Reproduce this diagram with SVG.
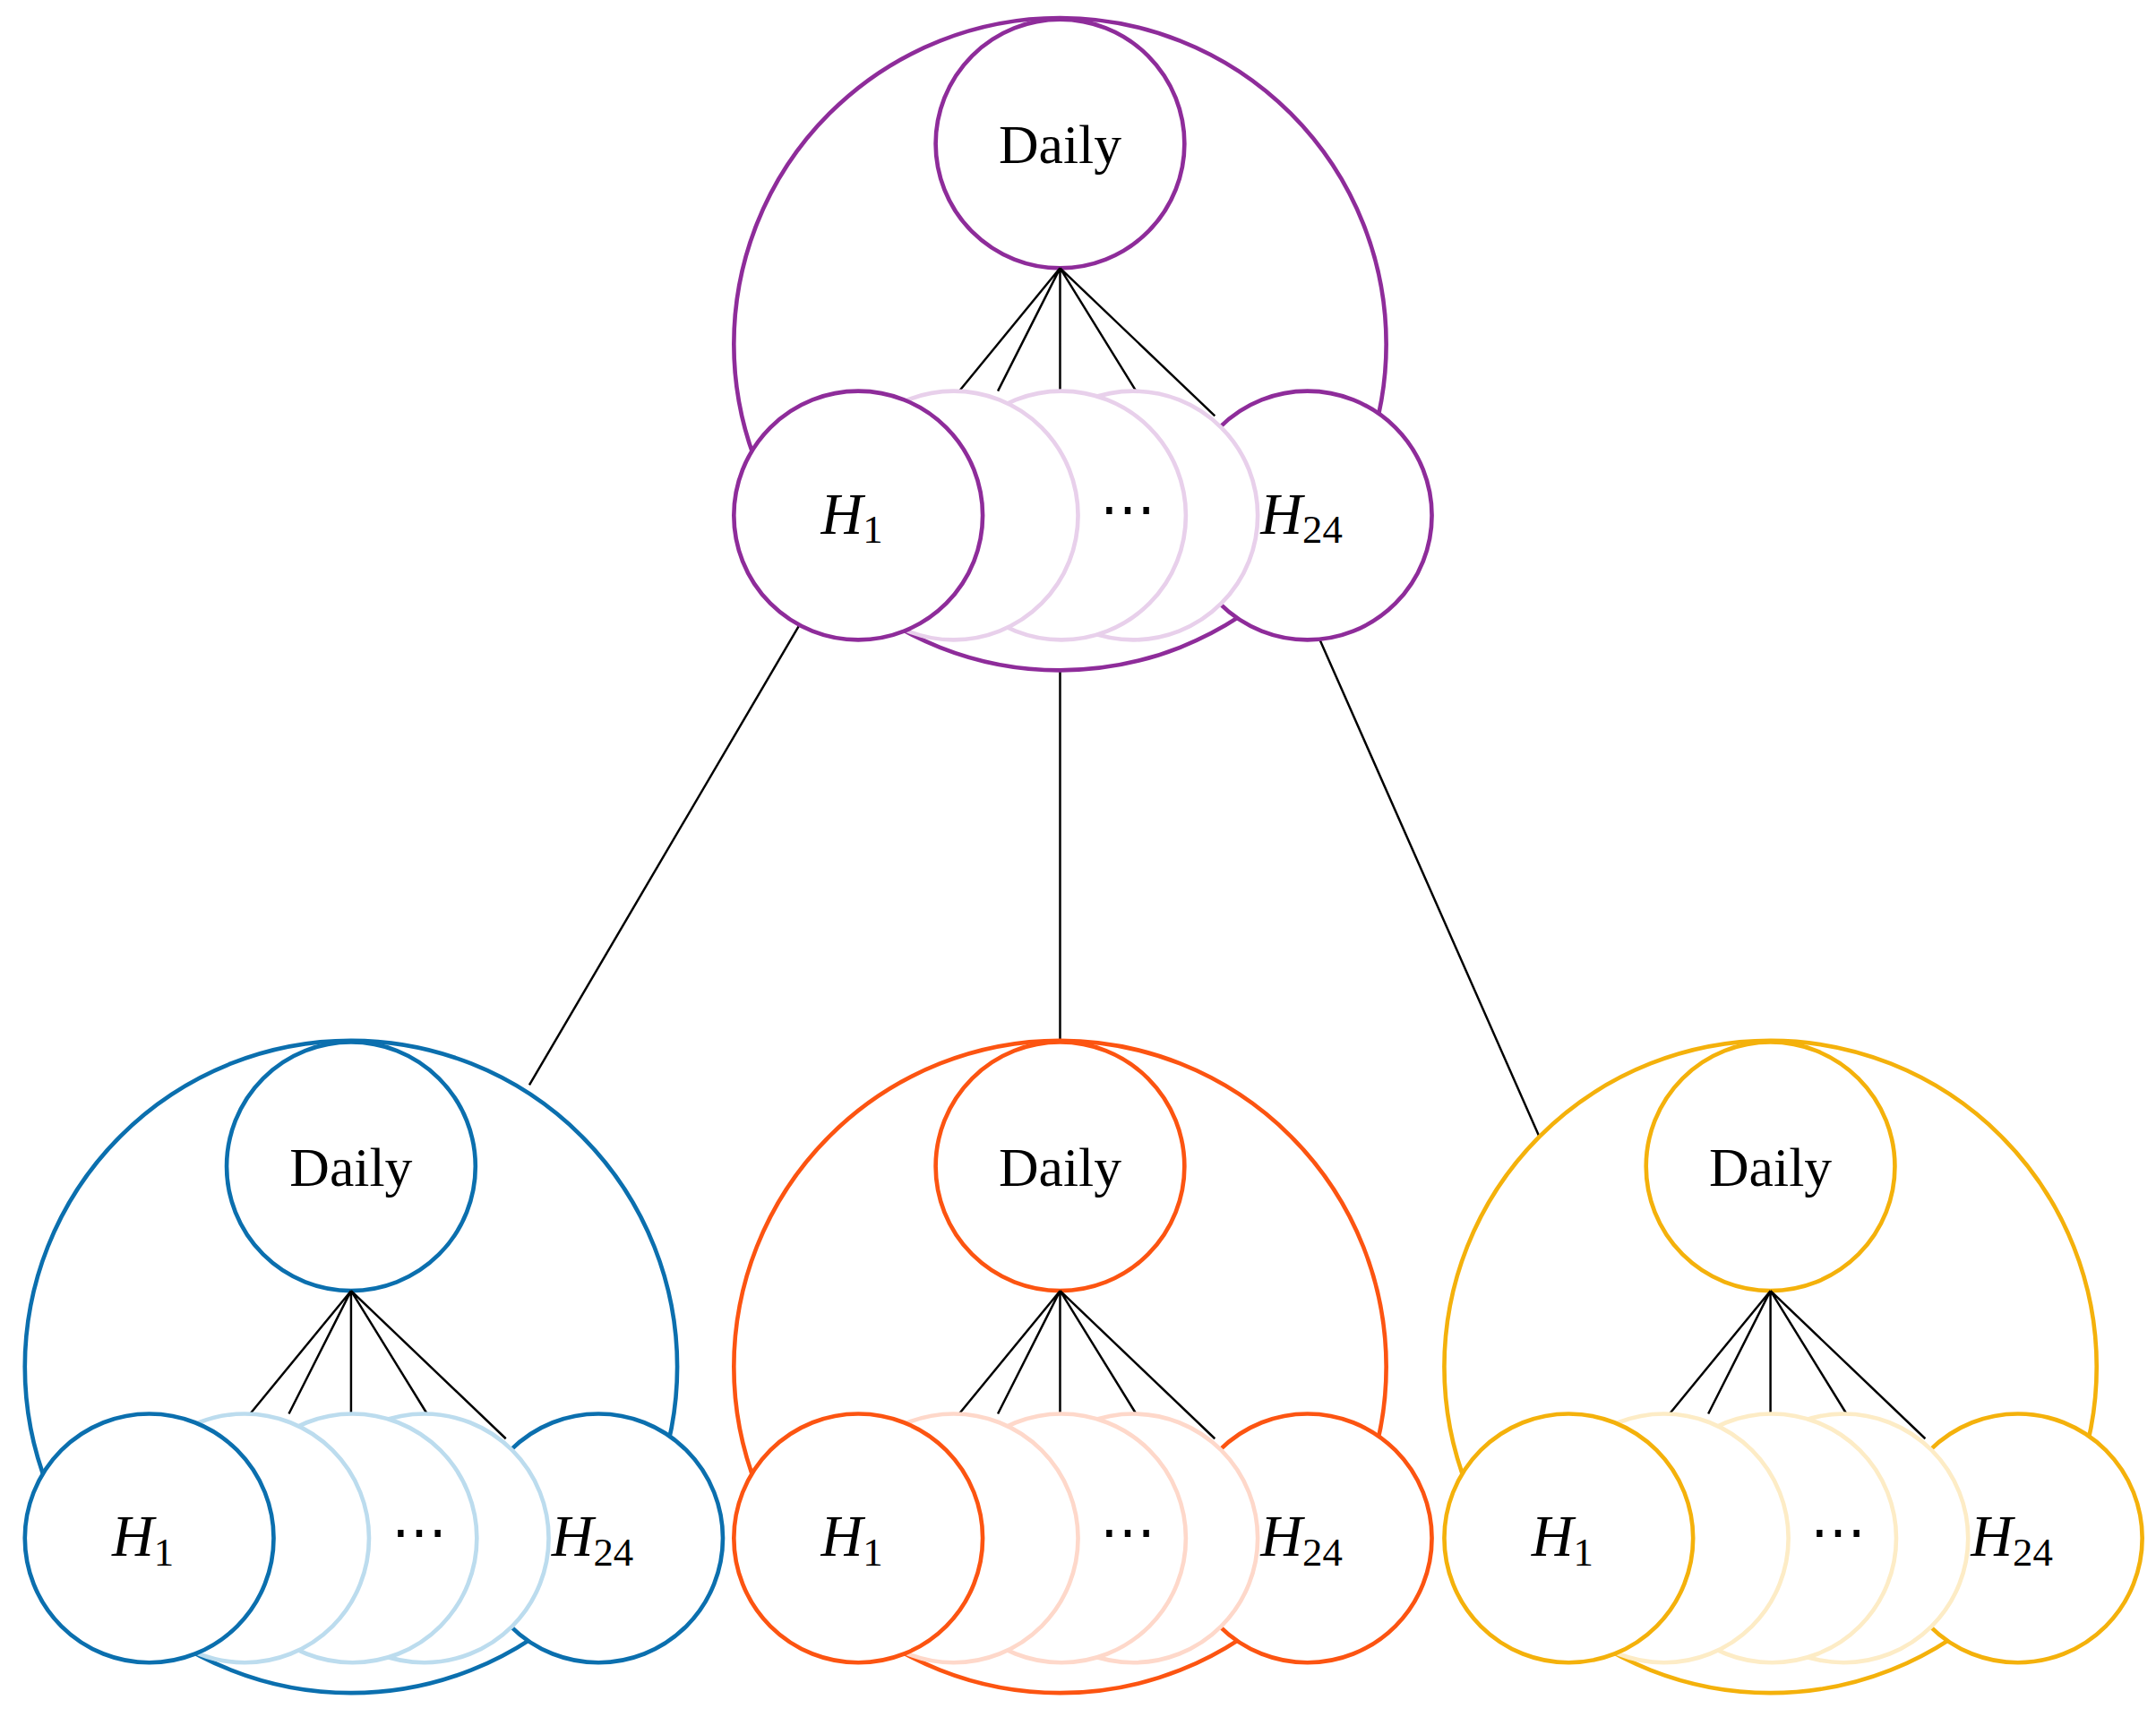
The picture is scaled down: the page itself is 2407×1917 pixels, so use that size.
<svg xmlns="http://www.w3.org/2000/svg" width="2407" height="1917" viewBox="0 0 2407 1917">
<style>
.c{fill:#fff;stroke-width:3}
.m{stroke:var(--m)}
.f{stroke:var(--f)}
.l{stroke:#000;stroke-width:1.6;fill:none}
.t{font-family:"Liberation Serif",serif;font-size:40px;text-anchor:middle}
.h{font-family:"Liberation Serif",serif;font-size:42px;font-style:italic}
.s{font-size:29px;font-style:normal}
.p{--m:#8e2c9a;--f:#e8d0eb}
.b{--m:#0b6fae;--f:#bcdcee}
.o{--m:#fc5411;--f:#fed8ca}
.y{--m:#f4b10b;--f:#fdecc6}
</style>
<defs>
<g id="cl">
<circle class="c m" cx="0" cy="0" r="236"/>
<circle class="c m" cx="0" cy="-145" r="90"/>
<path class="l" d="M0,-55L-73,34M0,-55L-45,34M0,-55V34M0,-55L55,34M0,-55L112,52"/>
<circle class="c m" cx="179" cy="124" r="90"/>
<circle class="c f" cx="53" cy="124" r="90"/>
<circle class="c f" cx="1" cy="124" r="90"/>
<circle class="c f" cx="-77" cy="124" r="90"/>
<circle class="c m" cx="-146" cy="124" r="90"/>
<text class="t" x="49" y="133">⋯</text>
<text class="t" x="0" y="-131">Daily</text>
<text class="h" x="-173" y="137">H<tspan class="s" dy="7">1</tspan></text>
<text class="h" x="145" y="137">H<tspan class="s" dy="7">24</tspan></text>
</g>
</defs>
<g transform="scale(1.543)">
<g id="connectors">
<path class="l" d="M578,453L383,785M767,486V753M955,463L1114,823"/>
</g>
<g id="top" class="p"><use href="#cl" x="767" y="249"/></g>
<g id="blue" class="b"><use href="#cl" x="254" y="989"/></g>
<g id="orange" class="o"><use href="#cl" x="767" y="989"/></g>
<g id="yellow" class="y"><use href="#cl" x="1281" y="989"/></g>
</g>
</svg>
